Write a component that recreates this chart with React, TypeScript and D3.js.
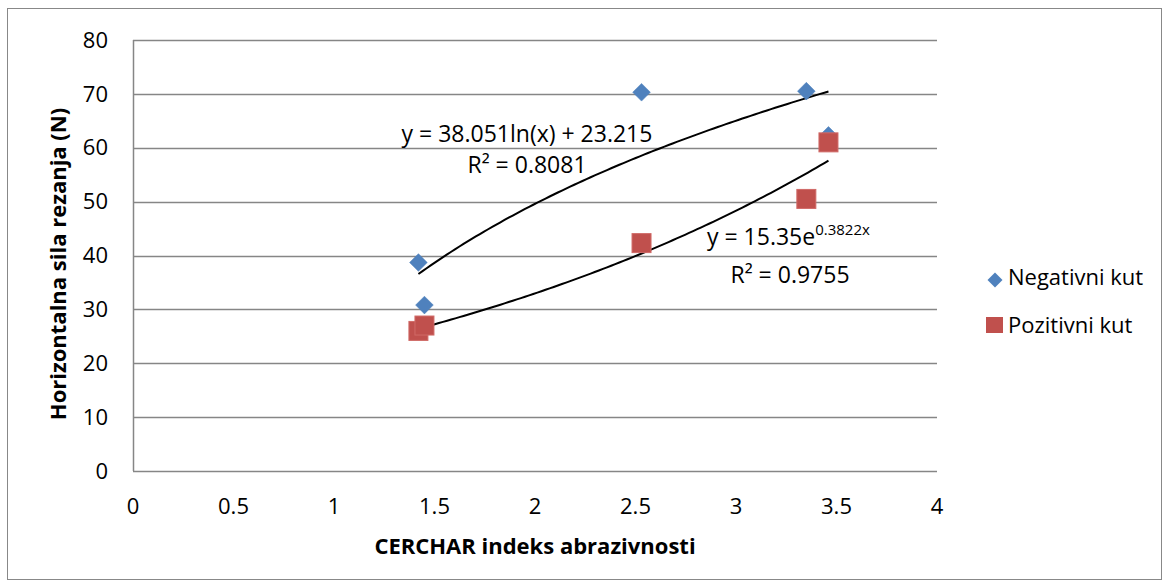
import React, { useEffect, useRef } from "react";
import * as d3 from "d3";

const negX = [1.42, 1.45, 2.53, 3.35, 3.46];
const negY = [38.7, 30.8, 70.3, 70.5, 62.3];
const posX = [1.42, 1.45, 2.53, 3.35, 3.46];
const posY = [26.0, 27.0, 42.3, 50.5, 61.0];
const xTicks = [0, 0.5, 1, 1.5, 2, 2.5, 3, 3.5, 4];
const xTickLabels = ["0", "0.5", "1", "1.5", "2", "2.5", "3", "3.5", "4"];
const yTicks = [0, 10, 20, 30, 40, 50, 60, 70, 80];
// trendline coefficients as printed in the chart
const logFit = { a: 38.051, b: 23.215, r2: "0.8081" };
const expFit = { a: 15.35, k: 0.3822, r2: "0.9755" };

const W = 1169;
const H = 587;
const FONT = "'Open Sans', 'Noto Sans', sans-serif";

const App = () => {
  const svgRef = useRef<SVGSVGElement>(null);

  useEffect(() => {
    const svg = d3.select(svgRef.current);
    svg.selectAll("*").remove();

    const left = 133, right = 937, top = 40, bottom = 471;
    const x = d3.scaleLinear().domain([0, 4]).range([left, right]);
    const y = d3.scaleLinear().domain([0, 80]).range([bottom, top]);

    // outer frame
    svg.append("rect")
      .attr("x", 7.5).attr("y", 8.5).attr("width", W - 15).attr("height", H - 16)
      .attr("fill", "white").attr("stroke", "#888").attr("stroke-width", 1);

    // gridlines
    svg.append("g").selectAll("line").data(yTicks.slice(1)).join("line")
      .attr("x1", left).attr("x2", right)
      .attr("y1", (d) => Math.round(y(d)) + 0.5).attr("y2", (d) => Math.round(y(d)) + 0.5)
      .attr("stroke", "#868686").attr("stroke-width", 1.5);

    // axis lines (no tick marks in the original)
    svg.append("line").attr("x1", left + 0.5).attr("x2", left + 0.5).attr("y1", top).attr("y2", bottom)
      .attr("stroke", "#868686").attr("stroke-width", 1.5);
    svg.append("line").attr("x1", left).attr("x2", right).attr("y1", bottom + 0.5).attr("y2", bottom + 0.5)
      .attr("stroke", "#868686").attr("stroke-width", 1.5);

    // tick labels
    svg.append("g").selectAll("text").data(yTicks).join("text")
      .attr("x", 108).attr("y", (d) => y(d)).attr("dy", "0.35em")
      .attr("text-anchor", "end").style("font", `22px ${FONT}`).attr("fill", "#000")
      .text((d) => String(d));
    svg.append("g").selectAll("text").data(xTicks).join("text")
      .attr("x", (d) => x(d)).attr("y", 514)
      .attr("text-anchor", "middle").style("font", `22px ${FONT}`).attr("fill", "#000")
      .text((d, i) => xTickLabels[i]);

    // axis titles
    svg.append("text").attr("x", 535).attr("y", 554)
      .attr("text-anchor", "middle").style("font", `bold 22px ${FONT}`).text("CERCHAR indeks abrazivnosti");
    svg.append("text").attr("transform", `translate(66,264) rotate(-90)`)
      .attr("text-anchor", "middle").style("font", `bold 22px ${FONT}`).text("Horizontalna sila rezanja (N)");

    // trendlines
    const line = d3.line<[number, number]>().x((d) => x(d[0])).y((d) => y(d[1]));
    const xs0 = d3.min(negX) as number, xs1 = d3.max(negX) as number;
    const samples = d3.range(0, 101).map((i) => xs0 + ((xs1 - xs0) * i) / 100);
    svg.append("path")
      .attr("d", line(samples.map((v) => [v, logFit.a * Math.log(v) + logFit.b])))
      .attr("fill", "none").attr("stroke", "#000").attr("stroke-width", 2);
    const ps0 = d3.min(posX) as number, ps1 = d3.max(posX) as number;
    const samples2 = d3.range(0, 101).map((i) => ps0 + ((ps1 - ps0) * i) / 100);
    svg.append("path")
      .attr("d", line(samples2.map((v) => [v, expFit.a * Math.exp(expFit.k * v)])))
      .attr("fill", "none").attr("stroke", "#000").attr("stroke-width", 2);

    // markers
    const diamond = d3.symbol().type(d3.symbolDiamond2).size(200);
    svg.append("g").selectAll("path").data(negX.map((v, i) => [v, negY[i]])).join("path")
      .attr("transform", (d) => `translate(${x(d[0])},${y(d[1])})`)
      .attr("d", diamond()).attr("fill", "#4F81BD").attr("stroke", "#4A7EBB").attr("stroke-width", 0.5);
    svg.append("g").selectAll("rect").data(posX.map((v, i) => [v, posY[i]])).join("rect")
      .attr("x", (d) => x(d[0]) - 9.5).attr("y", (d) => y(d[1]) - 9.5)
      .attr("width", 19).attr("height", 19)
      .attr("fill", "#C0504D").attr("stroke", "#D06A67").attr("stroke-width", 1);

    // trendline labels
    svg.append("text").attr("x", 527).attr("y", 142).attr("text-anchor", "middle")
      .style("font", `23px ${FONT}`).text(`y = ${logFit.a}ln(x) + ${logFit.b}`);
    svg.append("text").attr("x", 527).attr("y", 173).attr("text-anchor", "middle")
      .style("font", `23px ${FONT}`).text(`R² = ${logFit.r2}`);
    const eq2 = svg.append("text").attr("x", 707).attr("y", 245).style("font", `23px ${FONT}`);
    eq2.append("tspan").text(`y = ${expFit.a}e`);
    eq2.append("tspan").attr("dy", -10).style("font-size", "15px").text(`${expFit.k}x`);
    svg.append("text").attr("x", 790).attr("y", 283).attr("text-anchor", "middle")
      .style("font", `23px ${FONT}`).text(`R² = ${expFit.r2}`);

    // legend
    const lg = svg.append("g");
    lg.append("path").attr("transform", "translate(995,280)")
      .attr("d", d3.symbol().type(d3.symbolDiamond2).size(144)()).attr("fill", "#4F81BD");
    lg.append("text").attr("x", 1008).attr("y", 285)
      .style("font", `22px ${FONT}`).text("Negativni kut");
    lg.append("rect").attr("x", 986).attr("y", 317).attr("width", 17).attr("height", 16).attr("fill", "#C0504D");
    lg.append("text").attr("x", 1008).attr("y", 333)
      .style("font", `22px ${FONT}`).text("Pozitivni kut");
  }, []);

  return <svg ref={svgRef} width={W} height={H} style={{ display: "block", position: "absolute", left: 0, top: 0 }} />;
};

export default App;
